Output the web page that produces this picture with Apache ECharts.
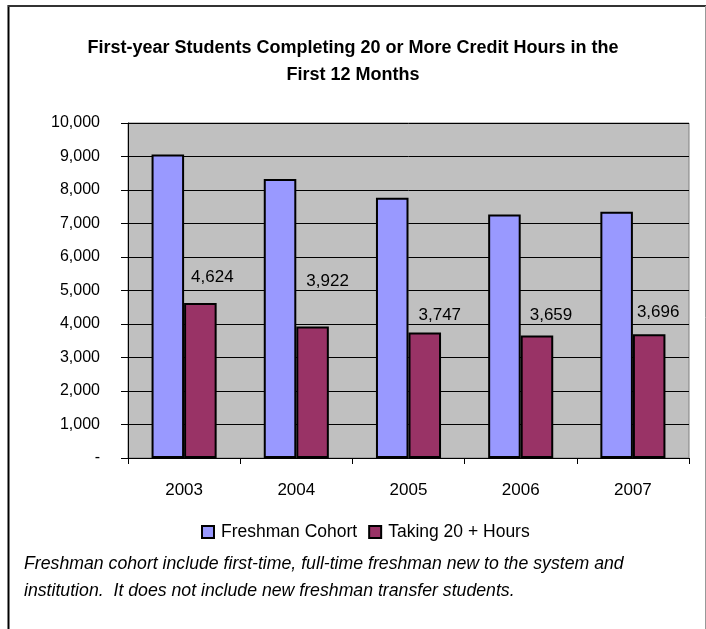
<!DOCTYPE html>
<html>
<head>
<meta charset="utf-8">
<script src="https://cdn.jsdelivr.net/npm/echarts@6/dist/echarts.min.js"></script>
<style>html,body{margin:0;padding:0;background:#fff;}#c{width:706px;height:629px;}</style>
</head>
<body>
<div id="c"></div>
<script>
const categories = ['2003', '2004', '2005', '2006', '2007'];
const freshmanCohort = [9060, 8330, 7770, 7270, 7350];
const taking20Hours = [4624, 3922, 3747, 3659, 3696];
const yTicks = { min: 0, max: 10000, interval: 1000 };
const labelOffsets = [[12, -12], [15, -32], [15, -4], [14, -7], [9, -8]];

const FONT = "'Liberation Sans', Arial, sans-serif";
const chart = echarts.init(document.getElementById('c'), null, { renderer: 'canvas' });

chart.setOption({
  backgroundColor: '#ffffff',
  animation: false,
  title: {
    text: 'First-year Students Completing 20 or More Credit Hours in the\nFirst 12 Months',
    left: 'center',
    top: 35,
    padding: 0,
    textStyle: { fontFamily: FONT, fontWeight: 'bold', fontSize: 18, lineHeight: 27, color: '#000' }
  },
  legend: {
    left: 201, top: 523, padding: 0,
    itemWidth: 12, itemHeight: 12, itemGap: 11,
    icon: 'rect',
    textStyle: { fontFamily: FONT, fontSize: 17.5, color: '#000', padding: [0, 0, 0, 2] },
    data: ['Freshman Cohort', 'Taking 20 + Hours']
  },
  grid: {
    left: 128, right: 17, top: 123, bottom: 171,
    show: true, backgroundColor: '#C0C0C0', borderColor: '#808080', borderWidth: 1
  },
  xAxis: {
    type: 'category',
    data: categories,
    axisLine: { show: true, lineStyle: { color: '#000', width: 1 } },
    axisTick: { show: true, inside: false, length: 6, lineStyle: { color: '#000' } },
    axisLabel: { margin: 24, fontFamily: FONT, fontSize: 17, color: '#000' }
  },
  yAxis: {
    type: 'value',
    min: yTicks.min, max: yTicks.max, interval: yTicks.interval,
    axisLine: { show: true, lineStyle: { color: '#000', width: 1 } },
    axisTick: { show: true, inside: false, length: 7, lineStyle: { color: '#000' } },
    splitLine: { show: true, lineStyle: { color: '#000', width: 1 } },
    axisLabel: {
      margin: 28, fontFamily: FONT, fontSize: 16, color: '#000',
      formatter: v => v === 0 ? '-' : v.toLocaleString('en-US')
    }
  },
  series: [
    {
      name: 'Freshman Cohort', type: 'bar', data: freshmanCohort,
      barGap: '0%', barCategoryGap: '42%',
      itemStyle: { color: '#9999FF', borderColor: '#000', borderWidth: 2 }
    },
    {
      name: 'Taking 20 + Hours', type: 'bar',
      data: taking20Hours.map((v, i) => ({ value: v, label: { offset: labelOffsets[i] } })),
      barGap: '0%', barCategoryGap: '42%',
      itemStyle: { color: '#993366', borderColor: '#000', borderWidth: 2 },
      label: {
        show: true, position: 'top', distance: 5,
        fontFamily: FONT, fontSize: 17, color: '#000',
        formatter: p => p.value.toLocaleString('en-US')
      }
    }
  ],
  graphic: [
    { type: 'line', shape: { x1: 8.5, y1: 5, x2: 8.5, y2: 629 }, style: { stroke: '#000', lineWidth: 2 } },
    { type: 'line', shape: { x1: 8, y1: 6, x2: 706, y2: 6 }, style: { stroke: '#333', lineWidth: 2 } },
    { type: 'line', shape: { x1: 705.5, y1: 6, x2: 705.5, y2: 629 }, style: { stroke: '#999', lineWidth: 1 } },
    {
      type: 'text', left: 24, top: 551,
      style: {
        text: 'Freshman cohort include first-time, full-time freshman new to the system and\ninstitution.  It does not include new freshman transfer students.',
        fontFamily: FONT, fontStyle: 'italic', fontSize: 17.7, lineHeight: 27, fill: '#000'
      }
    }
  ]
});
</script>
</body>
</html>
